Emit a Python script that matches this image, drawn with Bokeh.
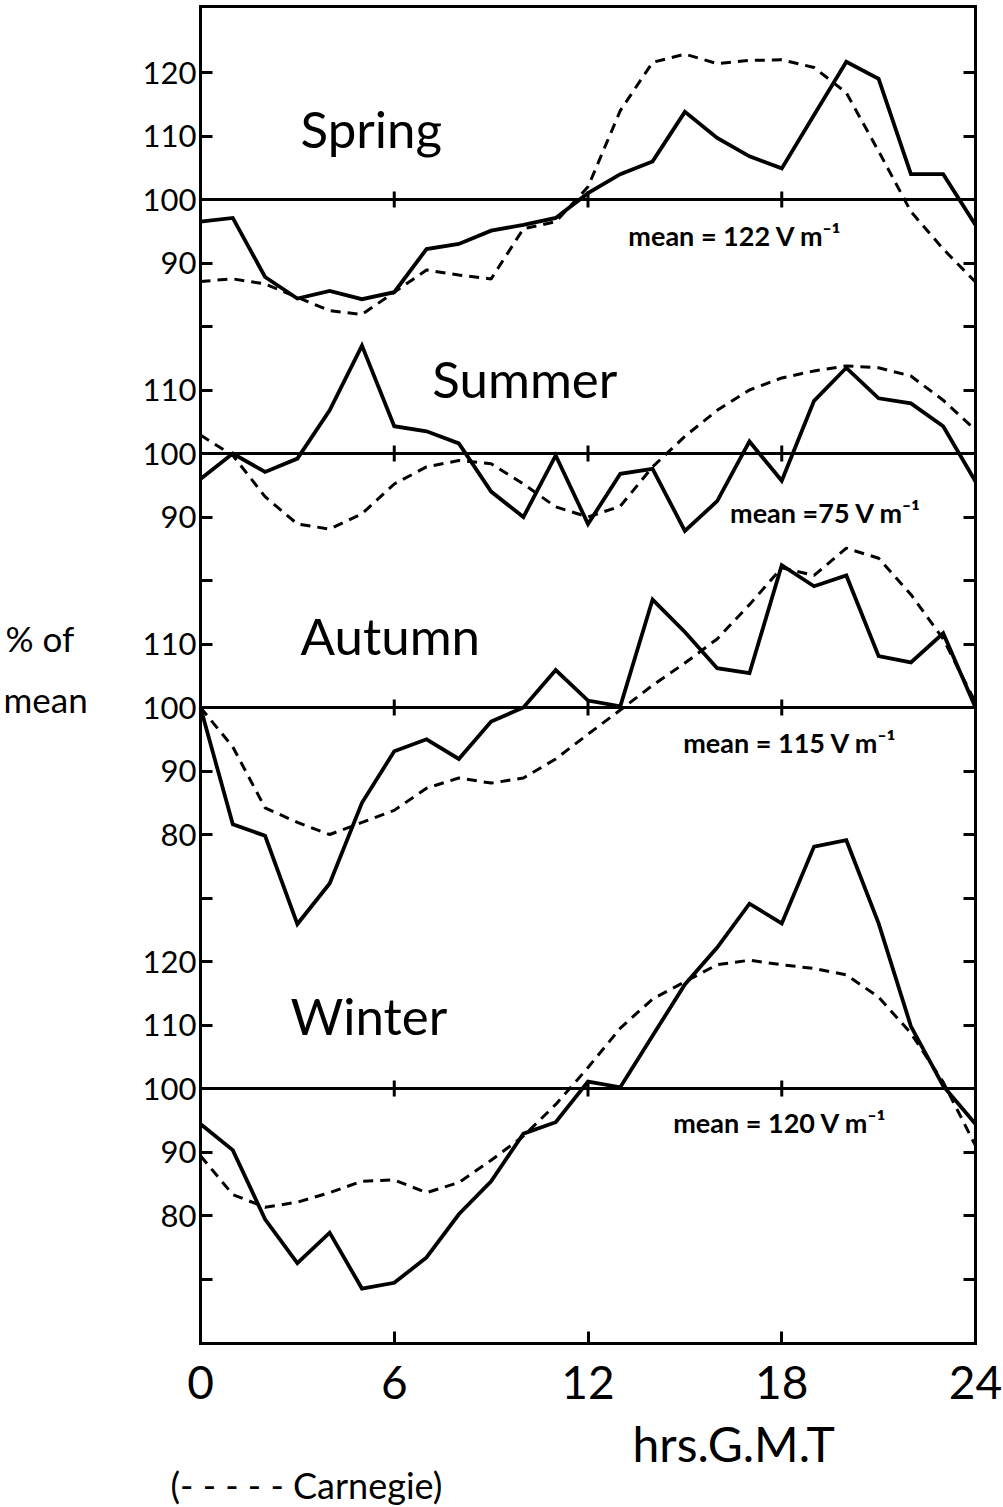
from bokeh.plotting import figure
from bokeh.models import FixedTicker, Label, LinearAxis, Range1d, ColumnDataSource
from bokeh.embed import file_html
from bokeh.resources import INLINE
import math

# Hour of day (GMT)
hours = list(range(25))

# Potential gradient as % of the seasonal mean: observed (solid) and Carnegie (dashed)
spring_obs = [96.5, 97.1, 87.8, 84.4, 85.6, 84.3, 85.4, 92.2, 93.0, 95.1, 96.0, 97.1, 101.0,
              104.0, 106.0, 113.8, 109.7, 106.8, 104.9, 113.3, 121.7, 119.0, 104.0, 104.0, 96.0]
spring_carnegie = [87.1, 87.5, 86.7, 84.6, 82.5, 81.9, 85.4, 88.9, 88.1, 87.5, 95.4, 96.5, 102.0,
                   114.0, 121.6, 122.9, 121.4, 121.9, 122.0, 120.8, 116.8, 107.6, 98.1, 92.2, 87.0]

summer_obs = [96.0, 100.0, 97.1, 99.2, 106.8, 117.0, 104.3, 103.5, 101.6, 94.0, 90.0, 99.7, 88.9,
              96.8, 97.6, 87.8, 92.5, 101.9, 95.7, 108.3, 113.5, 108.7, 107.9, 104.3, 95.6]
summer_carnegie = [102.9, 99.7, 93.2, 88.9, 88.1, 90.5, 95.2, 97.9, 98.9, 98.4, 95.2, 91.6, 90.0,
                   91.7, 97.9, 102.7, 106.8, 110.0, 111.9, 113.0, 113.8, 113.5, 112.2, 108.4, 103.7]

autumn_obs = [100.0, 81.6, 79.8, 65.9, 72.3, 85.0, 93.1, 95.0, 91.9, 97.8, 100.0, 105.9, 101.1,
              100.2, 117.0, 111.9, 106.2, 105.4, 122.4, 119.1, 120.8, 108.1, 107.1, 111.7, 100.0]
autumn_carnegie = [100.0, 93.8, 84.2, 81.9, 80.0, 81.9, 83.8, 87.3, 88.9, 88.1, 88.9, 91.9, 95.8,
                   99.6, 103.5, 107.0, 110.8, 116.2, 122.0, 120.8, 125.1, 123.5, 117.8, 110.8, 100.8]

winter_obs = [94.4, 90.3, 79.4, 72.5, 77.3, 68.5, 69.4, 73.4, 80.2, 85.4, 92.9, 94.7, 101.1,
              100.2, 108.3, 116.4, 122.2, 129.1, 126.0, 138.1, 139.1, 126.0, 109.8, 100.4, 94.4]
winter_carnegie = [89.4, 83.3, 81.3, 82.1, 83.6, 85.4, 85.6, 83.6, 85.2, 88.7, 92.5, 97.5, 103.3,
                   109.5, 114.1, 116.8, 119.5, 120.2, 119.5, 118.9, 117.9, 114.4, 108.7, 101.0, 91.0]

seasons = ["Spring", "Summer", "Autumn", "Winter"]
mean_texts = ["mean = 122 V m\u207b\u00b9", "mean =75 V m\u207b\u00b9",
              "mean = 115 V m\u207b\u00b9", "mean = 120 V m\u207b\u00b9"]
# vertical shift of each panel on the shared axis (its 100 % line)
offsets = [140, 100, 60, 0]
labelled_levels = [[90, 100, 110, 120], [90, 100, 110], [80, 90, 100, 110], [80, 90, 100, 110, 120]]
x_ticks = [0, 6, 12, 18, 24]
y_ticks = list(range(-30, 161, 10))

obs = [spring_obs, summer_obs, autumn_obs, winter_obs]
carnegie = [spring_carnegie, summer_carnegie, autumn_carnegie, winter_carnegie]

FONT = "Lato"

# extent of the boxed chart on the shared axes
box_bottom, box_top = -40.16, 170.39
hx0, hx1 = x_ticks[0], x_ticks[-1]

# the frame fills the canvas; axes are pinned to the box edges
p = figure(width=1003, height=1507,
           x_range=Range1d(-6.1935, 24.867), y_range=Range1d(-65.98, 171.34),
           output_backend="svg", toolbar_location=None,
           x_axis_location=None, y_axis_location=None,
           min_border_left=0, min_border_right=0, min_border_top=0, min_border_bottom=0)
p.grid.visible = False
p.outline_line_color = None
p.background_fill_color = "white"
p.border_fill_color = "white"

# y tick labels: each panel labels its own levels
overrides = {t: "" for t in y_ticks}
for off, levels in zip(offsets, labelled_levels):
    for lv in levels:
        overrides[lv - 100 + off] = str(lv)

left = LinearAxis(ticker=FixedTicker(ticks=y_ticks, minor_ticks=[]),
                  major_label_overrides=overrides, fixed_location=hx0,
                  bounds=(box_bottom, box_top))
right = LinearAxis(ticker=FixedTicker(ticks=y_ticks, minor_ticks=[]),
                   fixed_location=hx1, bounds=(box_bottom, box_top))
bottom = LinearAxis(ticker=FixedTicker(ticks=x_ticks, minor_ticks=[]),
                    fixed_location=box_bottom, bounds=(hx0, hx1))
top = LinearAxis(ticker=FixedTicker(ticks=[], minor_ticks=[]),
                 fixed_location=box_top, bounds=(hx0, hx1))

for ax in (left, right, bottom, top):
    ax.axis_line_width = 3
    ax.axis_line_color = "black"
    ax.axis_line_cap = "square"
    ax.major_tick_in = 12
    ax.major_tick_out = 0
    ax.major_tick_line_width = 3
    ax.major_tick_line_color = "black"
    ax.minor_tick_line_color = None
    ax.major_label_text_font = FONT
    ax.major_label_text_color = "black"

right.major_label_text_color = None
top.major_label_text_color = None
top.major_tick_line_color = None
left.major_label_text_font_size = "31px"
left.major_label_standoff = 4
bottom.major_label_text_font_size = "46px"
bottom.major_label_standoff = 22

p.add_layout(left, "left")
p.add_layout(right, "right")
p.add_layout(bottom, "below")
p.add_layout(top, "above")

# 100 % reference line for every panel, with small cross ticks at 6, 12, 18 h
p.segment(x0=[hx0] * len(offsets), x1=[hx1] * len(offsets), y0=offsets, y1=offsets,
          line_color="black", line_width=3)
cross_x, cross_y = [], []
for off in offsets:
    for h in x_ticks[1:-1]:
        cross_x.append(h)
        cross_y.append(off)
p.scatter(cross_x, cross_y, marker="dash", angle=math.pi / 2, size=16,
          line_color="black", line_width=3)

for name, o, c, off in zip(seasons, obs, carnegie, offsets):
    src = ColumnDataSource(dict(h=hours,
                                obs=[v - 100 + off for v in o],
                                car=[v - 100 + off for v in c]))
    p.line("h", "car", source=src, line_color="black", line_width=3, line_dash="10 7")
    p.line("h", "obs", source=src, line_color="black", line_width=3.8, line_join="miter")

# season names and mean values
season_pos = [(3.1, 151.2), (7.18, 111.8), (3.1, 71.3), (2.79, 11.5)]
mean_pos = [(13.25, 134.3), (16.4, 90.7), (14.95, 54.5), (14.64, -5.4)]
for name, (sx, sy), mtxt, (mx, my) in zip(seasons, season_pos, mean_texts, mean_pos):
    p.add_layout(Label(x=sx, y=sy, text=name, text_font=FONT, text_font_size="51px",
                       text_baseline="middle", text_align="left", text_color="black"))
    p.add_layout(Label(x=mx, y=my, text=mtxt, text_font=FONT, text_font_size="27px",
                       text_font_style="bold", text_baseline="middle", text_align="left",
                       text_color="black"))

# y title, x title and key
p.add_layout(Label(x=-6.04, y=71.0, text="% of", text_font=FONT, text_font_size="35px",
                   text_baseline="alphabetic", text_color="black"))
p.add_layout(Label(x=-6.1, y=61.3, text="mean", text_font=FONT, text_font_size="35px",
                   text_baseline="alphabetic", text_color="black"))
p.add_layout(Label(x=13.38, y=-55.9, text="hrs.G.M.T", text_font=FONT, text_font_size="48px",
                   text_baseline="alphabetic", text_color="black"))
p.add_layout(Label(x=-0.93, y=-62.4, text="(- - - - -  Carnegie)", text_font=FONT,
                   text_font_size="36px", text_baseline="middle", text_color="black"))

open("out.html", "w").write(file_html(p, INLINE))
